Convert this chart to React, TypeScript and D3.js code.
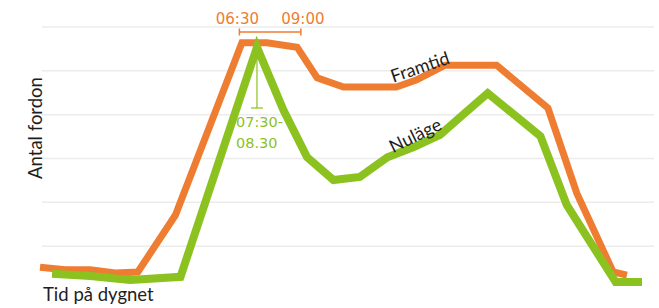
import * as d3 from "d3";

// hours of day (x) and number of vehicles (y)
const framtidHours = [0, 1, 2, 3, 3.9, 5.4, 8.05, 9.05, 10.25, 11.05, 12.1, 14.2, 15.0, 16.15, 18.2, 20.25, 21.4, 22.85, 23.4];
const framtidValues = [52, 46, 46, 39, 41, 171, 564, 564, 554, 484, 463, 463, 479, 513, 513, 415, 221, 41, 34];

const nulageHours = [0.48, 2.0, 3.6, 5.6, 8.65, 9.7, 10.65, 11.7, 12.75, 13.85, 14.9, 15.95, 16.85, 17.85, 19.95, 21.0, 22.95, 24.0];
const nulageValues = [37, 32, 23, 30, 554, 411, 303, 251, 258, 303, 326, 354, 399, 449, 351, 194, 18, 18];

const gridValues = [100, 200, 300, 400, 500, 600];

const W = 659;
const H = 308;

const ORANGE = "#ee7d32";
const GREEN = "#8cc21f";
const TEXT = "#1e1e1e";

export default function App() {
  const x = d3.scaleLinear().domain([0, 24]).range([40, 642]);
  const y = d3.scaleLinear().domain([0, 600]).range([290, 27]);

  const lineGen = d3
    .line<[number, number]>()
    .x((d) => x(d[0]))
    .y((d) => y(d[1]));

  const framtidPath = lineGen(framtidHours.map((h, i) => [h, framtidValues[i]]));
  const nulagePath = lineGen(nulageHours.map((h, i) => [h, nulageValues[i]]));

  // annotation anchors
  const bracketY = y(600) + 5;
  const bx0 = x(7.95);
  const bx1 = x(10.4);
  const peakX = x(nulageHours[4]);
  const peakY = y(nulageValues[4]);

  return (
    <svg
      width={W}
      height={H}
      style={{ position: "absolute", left: 0, top: 0, background: "#fff" }}
    >
      {gridValues.map((g) => (
        <line
          key={g}
          x1={42}
          x2={654}
          y1={y(g)}
          y2={y(g)}
          stroke="#ececec"
          strokeWidth={1.5}
        />
      ))}

      <path d={framtidPath || ""} fill="none" stroke={ORANGE} strokeWidth={7} strokeLinejoin="miter" />
      <path d={nulagePath || ""} fill="none" stroke={GREEN} strokeWidth={8} strokeLinejoin="miter" />

      {/* orange time span */}
      <g stroke={ORANGE} strokeWidth={1.5}>
        <line x1={bx0} x2={bx1} y1={bracketY} y2={bracketY} />
        <line x1={bx0} x2={bx0} y1={bracketY - 3.5} y2={bracketY + 3.5} />
        <line x1={bx1} x2={bx1} y1={bracketY - 3.5} y2={bracketY + 3.5} />
      </g>
      <g fill={ORANGE} fontFamily="DejaVu Sans" fontSize={15} textAnchor="middle">
        <text x={bx0 - 2} y={24}>06:30</text>
        <text x={bx1 + 2} y={24}>09:00</text>
      </g>

      {/* green peak */}
      <g stroke={GREEN} strokeWidth={1.2}>
        <line x1={peakX} x2={peakX} y1={peakY + 4} y2={108} />
        <line x1={peakX - 6} x2={peakX + 6} y1={108} y2={108} />
      </g>
      <g fill={GREEN} fontFamily="DejaVu Sans" fontSize={14.5}>
        <text x={236} y={127}>07:30-</text>
        <text x={236} y={148}>08.30</text>
      </g>

      {/* series labels */}
      <g fill={TEXT} fontFamily="Lato" fontSize={18} textAnchor="middle">
        <text transform={`translate(422,73) rotate(-19)`}>Framtid</text>
        <text transform={`translate(418,141) rotate(-26)`}>Nuläge</text>
      </g>

      <text
        transform={`translate(42,128) rotate(-90)`}
        fill={TEXT}
        fontFamily="Lato"
        fontSize={18.5}
        textAnchor="middle"
      >
        Antal fordon
      </text>
      <text x={43} y={301} fill={TEXT} fontFamily="Lato" fontSize={18.5}>
        Tid på dygnet
      </text>
    </svg>
  );
}
